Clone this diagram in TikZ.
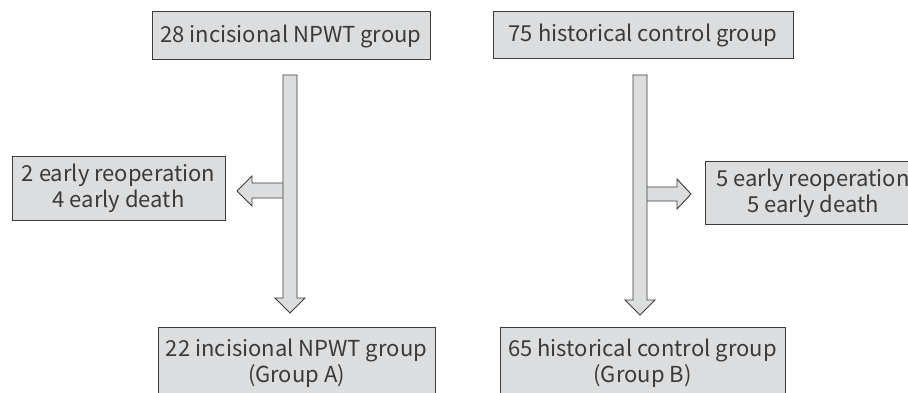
\documentclass[tikz,border=0pt]{standalone}
\usepackage{fontspec}
\setmainfont{Noto Sans CJK JP}
\usetikzlibrary{calc}
\definecolor{boxfill}{HTML}{DCDDDE}
\definecolor{boxline}{HTML}{3C3C3C}
\definecolor{txt}{HTML}{3A3A3A}
\begin{document}
\begin{tikzpicture}[x=1pt,y=-1pt,
  box/.style={draw=boxline,fill=boxfill,line width=1pt,inner sep=0pt,outer sep=0pt,
    font=\fontsize{22}{26}\selectfont,text=txt,align=center},
  fat/.style={draw=boxline,fill=boxfill,line width=0.9pt,line join=miter}]
\useasboundingbox (0,0) rectangle (908,393);
\begin{scope}
\clip (0,0) rectangle (908,393);
% boxes
\node[box,minimum width=278pt,minimum height=48pt] (t1) at (291,36) {28 incisional NPWT group};
\node[box,minimum width=300pt,minimum height=47pt] (t2) at (643,35.5) {75 historical control group};
\node[box,minimum width=213pt,minimum height=63pt] (m1) at (118.5,188.5) {2 early reoperation\\4 early death};
\node[box,minimum width=216pt,minimum height=62pt] (m2) at (813,193) {5 early reoperation\\5 early death};
\node[box,minimum width=277pt,minimum height=72pt] (b1) at (296.5,363) {22 incisional NPWT group\\(Group A)};
\node[box,minimum width=285pt,minimum height=72pt] (b2) at (642.5,363) {65 historical control group\\(Group B)};
% anchor coordinates for the fat arrows
\coordinate (Ltop) at (290,75);
\coordinate (Ltip) at (290,313);
\coordinate (Lside) at (237,191);
\coordinate (Rtop) at (640,75);
\coordinate (Rtip) at (640,315);
\coordinate (Rside) at (691,194);
% left side arrow (to m1)
\draw[fat] ($(Ltop)+(-7,108)$) -- ($(Lside)+(15,-8)$) -- ($(Lside)+(15,-15)$) -- (Lside)
  -- ($(Lside)+(15,15)$) -- ($(Lside)+(15,7)$) -- ($(Ltop)+(-7,123)$);
% left vertical arrow (t1 -> b1)
\draw[fat] ($(Ltop)+(-7,0)$) -- ($(Ltop)+(7,0)$) -- ($(Ltip)+(7,-15)$) -- ($(Ltip)+(15,-15)$)
  -- (Ltip) -- ($(Ltip)+(-15,-15)$) -- ($(Ltip)+(-7,-15)$) -- cycle;
% right side arrow (to m2)
\draw[fat] ($(Rtop)+(7,112)$) -- ($(Rside)+(-14,-7)$) -- ($(Rside)+(-14,-15)$) -- (Rside)
  -- ($(Rside)+(-14,15)$) -- ($(Rside)+(-14,7)$) -- ($(Rtop)+(7,126)$);
% right vertical arrow (t2 -> b2)
\draw[fat] ($(Rtop)+(-7,0)$) -- ($(Rtop)+(7,0)$) -- ($(Rtip)+(7,-15)$) -- ($(Rtip)+(15,-15)$)
  -- (Rtip) -- ($(Rtip)+(-15,-15)$) -- ($(Rtip)+(-7,-15)$) -- cycle;
\end{scope}
\end{tikzpicture}
\end{document}
